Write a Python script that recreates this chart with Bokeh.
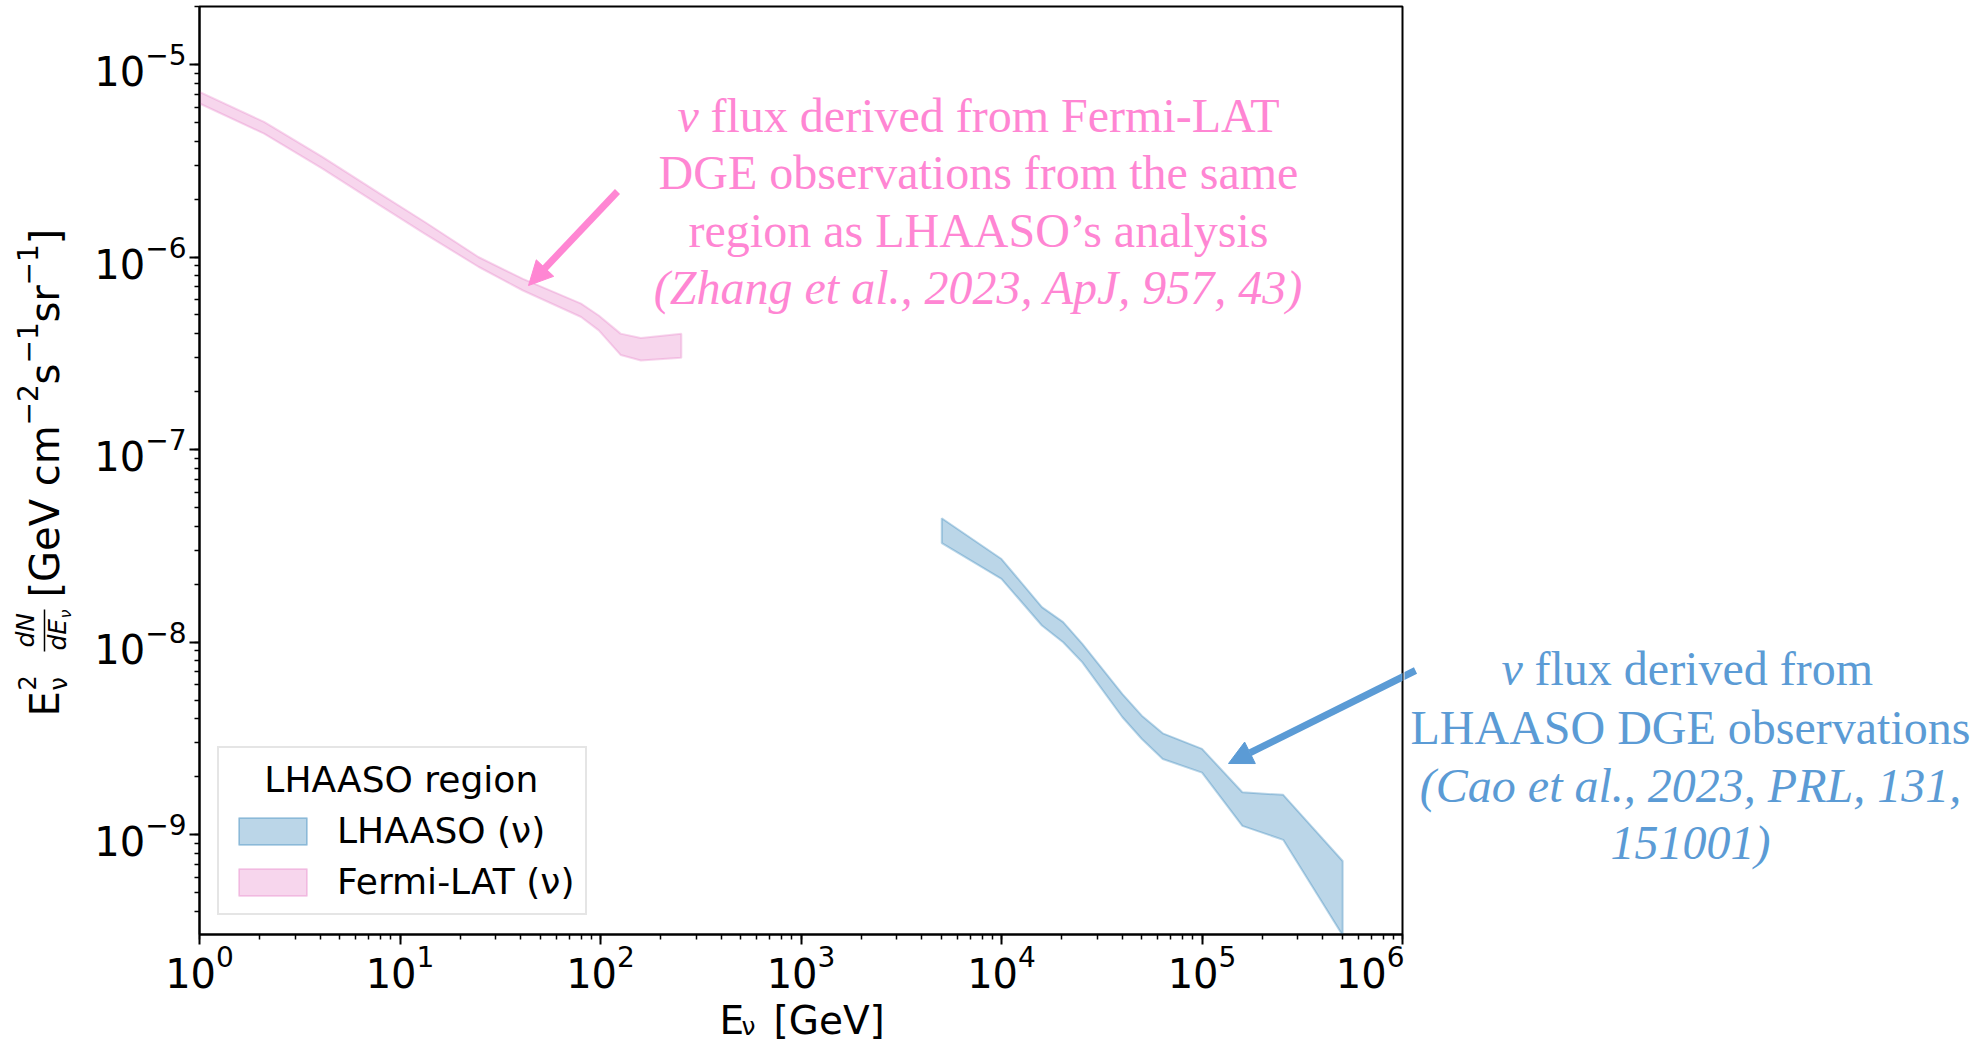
import math
from bokeh.plotting import figure
from bokeh.layouts import row, column
from bokeh.models import (Label, Arrow, NormalHead, Legend, LegendItem, Range1d)
from bokeh.embed import file_html
from bokeh.resources import INLINE

# ---------------- data ----------------
fermi_E = [1.0, 2.1, 4.1, 7.9, 13.3, 24.6, 41.0, 80.0, 98.0, 126.0, 159.0, 253.0]
fermi_hi = [7.2e-6, 5.03e-6, 3.31e-6, 2.14e-6, 1.52e-6, 1.0e-6, 7.7e-7, 5.73e-7, 4.97e-7, 4.0e-7, 3.8e-7, 4.0e-7]
fermi_lo = [6.27e-6, 4.37e-6, 2.88e-6, 1.86e-6, 1.32e-6, 8.9e-7, 6.7e-7, 4.88e-7, 4.16e-7, 3.1e-7, 2.9e-7, 3.0e-7]

lhaaso_E = [5035.0, 1.0e4, 1.59e4, 2.03e4, 2.53e4, 4.01e4, 5.01e4, 6.37e4, 1.0e5, 1.59e5, 2.54e5, 5.03e5]
lhaaso_hi = [4.40e-8, 2.70e-8, 1.52e-8, 1.27e-8, 9.8e-9, 5.37e-9, 4.15e-9, 3.36e-9, 2.79e-9, 1.66e-9, 1.61e-9, 7.3e-10]
lhaaso_lo = [3.27e-8, 2.13e-8, 1.22e-8, 9.98e-9, 7.85e-9, 4.07e-9, 3.14e-9, 2.47e-9, 2.10e-9, 1.11e-9, 9.4e-10, 3.0e-10]

series_names = ["LHAASO (ν)", "Fermi-LAT (ν)"]
legend_title = "LHAASO region"

pink_note = ["flux derived from Fermi-LAT", "DGE observations from the same",
             "region as LHAASO’s analysis", "(Zhang et al., 2023, ApJ, 957, 43)"]
blue_note = ["flux derived from", "LHAASO DGE observations",
             "(Cao et al., 2023, PRL, 131,", "151001)"]

# ---------------- layout (page pixels) ----------------
W, H = 1984, 1043
FL, FR, FT, FB = 199, 1402, 6, 934          # plot frame on the page
LW = 80                                      # left strip (y label)
MW, MH = FR + 2 - LW, 997                    # main figure
RW = W - LW - MW                             # right strip (notes)
BH = H - MH                                  # bottom strip (x label)
X0, X1 = 1.0, 1.0e6
Y0, Y1 = 3.03e-10, 2.0e-5

BLUE = "#1f77b4"
PINK = "#e377c2"
PINK_TXT = "#FF86D3"
BLUE_TXT = "#5B9BD5"
SANS = "DejaVu Sans"
SERIF = "Liberation Serif"
BASE_FIX = 0.32  # baseline correction (fraction of font size)


def px2data(xf, yf):
    lx = math.log10(X0) + (xf - FL) / (FR - FL) * (math.log10(X1) - math.log10(X0))
    ly = math.log10(Y1) - (yf - FT) / (FB - FT) * (math.log10(Y1) - math.log10(Y0))
    return 10 ** lx, 10 ** ly


# ---------------- main figure ----------------
p = figure(width=MW, height=MH, x_axis_type="log", y_axis_type="log",
           x_range=Range1d(X0, X1), y_range=Range1d(Y0, Y1),
           output_backend="svg", toolbar_location=None, title=None)
p.min_border_left = FL - LW
p.min_border_right = 2
p.min_border_top = FT
p.min_border_bottom = MH - FB
p.xgrid.visible = False
p.ygrid.visible = False
p.outline_line_color = "black"
p.outline_line_width = 2
p.background_fill_color = "white"
p.border_fill_color = "white"

for ax in (p.xaxis, p.yaxis):
    ax.axis_line_width = 2
    ax.major_tick_out = 10
    ax.major_tick_in = 0
    ax.minor_tick_out = 5
    ax.minor_tick_in = 0
    ax.major_tick_line_width = 2
    ax.minor_tick_line_width = 1.5
    ax.major_label_text_font = SANS
    ax.major_label_text_font_size = "40px"
    ax.major_label_text_color = "black"
p.xaxis.major_label_standoff = 0
p.yaxis.major_label_standoff = 3

xs_l = lhaaso_E + lhaaso_E[::-1]
ys_l = lhaaso_hi + lhaaso_lo[::-1]
r_l = p.patch(xs_l, ys_l, fill_color=BLUE, fill_alpha=0.3,
              line_color=BLUE, line_alpha=0.3, line_width=2)
xs_f = fermi_E + fermi_E[::-1]
ys_f = fermi_hi + fermi_lo[::-1]
r_f = p.patch(xs_f, ys_f, fill_color=PINK, fill_alpha=0.3,
              line_color=PINK, line_alpha=0.3, line_width=2)

legend = Legend(items=[LegendItem(label=series_names[0], renderers=[r_l]),
                       LegendItem(label=series_names[1], renderers=[r_f])],
                location=(18, 19), title="\u00a0\u00a0\u00a0" + legend_title,
                title_text_font=SANS, title_text_font_size="36px",
                title_text_font_style="normal", title_text_color="black",
                title_standoff=10,
                label_text_font=SANS, label_text_font_size="36px",
                label_text_color="black",
                glyph_width=85, glyph_height=34, label_standoff=22,
                padding=11, spacing=10, margin=0,
                border_line_color="#cccccc", border_line_width=2,
                background_fill_color="white", background_fill_alpha=0.8)
p.add_layout(legend, "center")


def lab_main(text, xf, yf, size, color, font, style="normal", align="left"):
    fs = float(size[:-2])
    x, y = px2data(xf, yf - BASE_FIX * fs)
    p.add_layout(Label(x=x, y=y, text=text, text_font=font, text_font_size=size,
                       text_color=color, text_font_style=style, text_align=align,
                       text_baseline="alphabetic"))


lab_main("ν", 677, 130, "48px", PINK_TXT, SERIF, "italic")
lab_main(pink_note[0], 710, 130, "48px", PINK_TXT, SERIF)
lab_main(pink_note[1], 978, 187, "48px", PINK_TXT, SERIF, align="center")
lab_main(pink_note[2], 978, 245, "48px", PINK_TXT, SERIF, align="center")
lab_main(pink_note[3], 978, 302, "48px", PINK_TXT, SERIF, "italic", align="center")

for (x0f, y0f, x1f, y1f, c) in [(617, 191, 528, 285, PINK_TXT), (1415, 670, 1228, 763, BLUE_TXT)]:
    xs0, ys0 = px2data(x0f, y0f)
    xe0, ye0 = px2data(x1f, y1f)
    p.add_layout(Arrow(x_start=xs0, y_start=ys0, x_end=xe0, y_end=ye0,
                       line_color=c, line_width=7,
                       end=NormalHead(size=24, fill_color=c, line_color=c, line_width=1)))


# ---------------- auxiliary text strips ----------------
def strip(w, h, bl=0, br=0):
    f = figure(width=w, height=h, x_range=Range1d(bl, w - br), y_range=Range1d(h, 0),
               x_axis_location=None, y_axis_location=None,
               output_backend="svg", toolbar_location=None, title=None)
    f.min_border_left = bl
    f.min_border_right = br
    f.min_border_top = 0
    f.min_border_bottom = 0
    f.xgrid.visible = False
    f.ygrid.visible = False
    f.outline_line_color = None
    f.background_fill_color = "white"
    f.border_fill_color = "white"
    return f


def lab(f, ox, oy, text, xf, yf, size, color="black", font=SANS, style="normal",
        align="left", angle=0.0):
    fs = float(size[:-2])
    if angle:
        xf = xf - BASE_FIX * fs
    else:
        yf = yf - BASE_FIX * fs
    f.add_layout(Label(x=xf - ox, y=yf - oy, text=text, text_font=font,
                       text_font_size=size, text_color=color, text_font_style=style,
                       text_align=align, text_baseline="alphabetic", angle=angle))


# left strip: y-axis label
L = strip(LW, H)
A = math.pi / 2
lab(L, 0, 0, "E", 57, 716, "40px", angle=A)
lab(L, 0, 0, "2", 34, 690, "24px", angle=A)
lab(L, 0, 0, "ν", 66, 690, "24px", angle=A)
lab(L, 0, 0, "dN", 33, 647, "25px", style="italic", angle=A)
lab(L, 0, 0, "dE", 65, 650, "25px", style="italic", angle=A)
lab(L, 0, 0, "ν", 70, 618, "16px", style="italic", angle=A)
L.add_layout(Arrow(x_start=44, y_start=651, x_end=44, y_end=609, end=None,
                   line_color="black", line_width=1.5))
lab(L, 0, 0, "[GeV cm", 57, 597, "40px", angle=A)
lab(L, 0, 0, "−2", 36, 425, "28px", angle=A)
lab(L, 0, 0, "s", 57, 384, "40px", angle=A)
lab(L, 0, 0, "−1", 36, 363, "28px", angle=A)
lab(L, 0, 0, "sr", 57, 322, "40px", angle=A)
lab(L, 0, 0, "−1", 36, 285, "28px", angle=A)
lab(L, 0, 0, "]", 57, 244, "40px", angle=A)

# bottom strip: x-axis label (frame aligned with the main frame)
B = strip(MW, BH, bl=FL - LW, br=2)
lab(B, LW, MH, "E", 719, 1032, "39px")
lab(B, LW, MH, "ν", 741, 1034, "25px")
lab(B, LW, MH, "[GeV]", 773, 1032, "39px")

# right strip: LHAASO note
R = strip(RW, H)
ROX = LW + MW
lab(R, ROX, 0, "ν", 1501, 683, "48px", BLUE_TXT, SERIF, "italic")
lab(R, ROX, 0, blue_note[0], 1534, 683, "48px", BLUE_TXT, SERIF)
lab(R, ROX, 0, blue_note[1], 1690, 742, "48px", BLUE_TXT, SERIF, align="center")
lab(R, ROX, 0, blue_note[2], 1690, 800, "48px", BLUE_TXT, SERIF, "italic", align="center")
lab(R, ROX, 0, blue_note[3], 1690, 857, "48px", BLUE_TXT, SERIF, "italic", align="center")
R.add_layout(Arrow(x_start=1415 - ROX, y_start=670, x_end=1395 - ROX, y_end=680, end=None,
                   line_color=BLUE_TXT, line_width=7))

layout = row(L, column(p, B, spacing=0), R, spacing=0)
open("out.html", "w").write(file_html(layout, INLINE))
